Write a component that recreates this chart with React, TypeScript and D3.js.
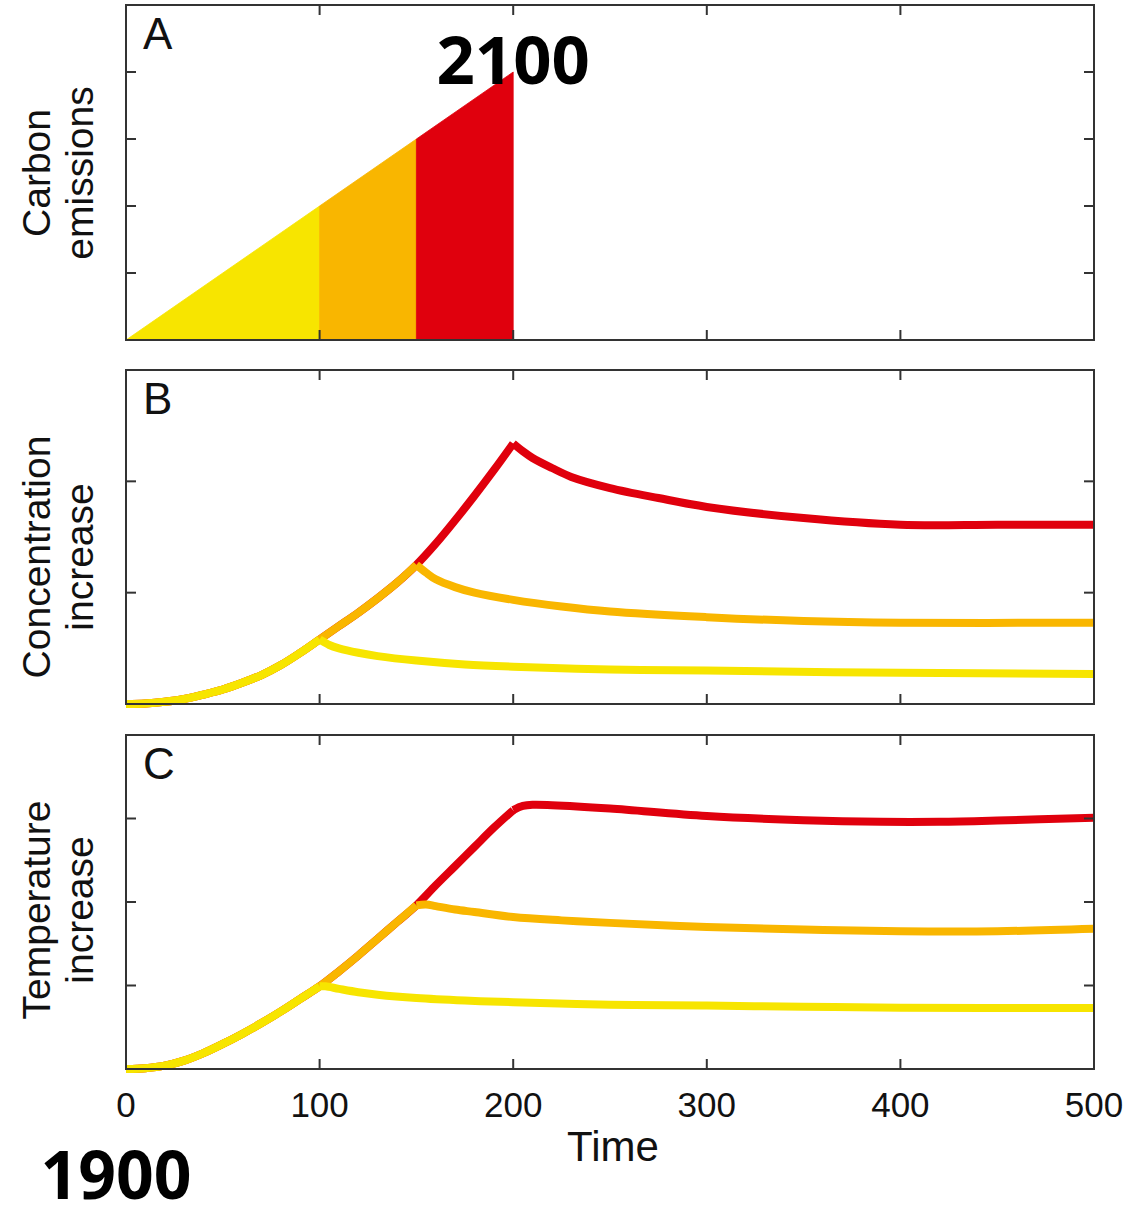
import React from "react";
import * as d3 from "d3";

// ---------- data ----------
const xTicks = [0, 100, 200, 300, 400, 500];
const panelLetters = ["A", "B", "C"];
const yLabelLines = [
  ["Carbon", "emissions"],
  ["Concentration", "increase"],
  ["Temperature", "increase"],
];

// Panel A: emissions (linear ramp split into three scenario segments)
const emissionYellow: [number, number][] = [[0, 0], [100, 2]];
const emissionOrange: [number, number][] = [[100, 2], [150, 3]];
const emissionRed: [number, number][] = [[150, 3], [200, 4]];

// Panel B: concentration
const concRise: [number, number][] = [
  [0, 0], [10, 0.005], [20, 0.02], [30, 0.045], [40, 0.085], [50, 0.13],
  [60, 0.19], [70, 0.26], [80, 0.35], [90, 0.46], [100, 0.58],
  [110, 0.7], [120, 0.82], [130, 0.95], [140, 1.09], [150, 1.25],
  [160, 1.44], [170, 1.65], [180, 1.87], [190, 2.1], [200, 2.34],
];
const concYellowDecay: [number, number][] = [
  [105, 0.53], [110, 0.5], [120, 0.46], [130, 0.43], [150, 0.39], [175, 0.355],
  [200, 0.335], [250, 0.31], [300, 0.3], [400, 0.28], [500, 0.27],
];
const concOrangeDecay: [number, number][] = [
  [155, 1.18], [160, 1.12], [170, 1.05], [180, 1.0], [200, 0.935], [225, 0.875],
  [250, 0.83], [300, 0.78], [350, 0.745], [400, 0.73], [500, 0.73],
];
const concRedDecay: [number, number][] = [
  [205, 2.27], [210, 2.21], [220, 2.12], [230, 2.04], [250, 1.94], [275, 1.85],
  [300, 1.77], [350, 1.67], [400, 1.61], [450, 1.61], [500, 1.61],
];

// Panel C: temperature
const tempRise: [number, number][] = [
  [0, 0], [10, 0.01], [20, 0.04], [30, 0.1], [40, 0.19], [50, 0.3],
  [60, 0.42], [70, 0.55], [80, 0.69], [90, 0.84], [100, 0.99],
  [110, 1.17], [120, 1.36], [130, 1.56], [140, 1.76], [150, 1.96],
  [160, 2.2], [170, 2.43], [180, 2.66], [190, 2.89], [200, 3.1],
];
const tempYellowDecay: [number, number][] = [
  [103, 0.99], [110, 0.96], [120, 0.92], [130, 0.89], [150, 0.85], [175, 0.82],
  [200, 0.8], [250, 0.77], [300, 0.76], [350, 0.745], [400, 0.735], [450, 0.73], [500, 0.73],
];
const tempOrangeDecay: [number, number][] = [
  [155, 1.97], [160, 1.95], [170, 1.91], [180, 1.88], [200, 1.82], [225, 1.78],
  [250, 1.75], [300, 1.7], [350, 1.67], [400, 1.65], [450, 1.65], [500, 1.68],
];
const tempRedDecay: [number, number][] = [
  [205, 3.15], [210, 3.165], [220, 3.16], [250, 3.12], [300, 3.03], [350, 2.98],
  [390, 2.96], [420, 2.96], [450, 2.975], [500, 3.01],
];

const scenarioEnds = [100, 150, 200];
const colors = ["#F7E500", "#F9B600", "#E0000D"];

// ---------- layout ----------
const W = 1131;
const H = 1206;
const X0 = 126;
const X1 = 1094;
const panels = [
  { top: 5, bottom: 340, yMax: 5, yTicks: [1, 2, 3, 4], labelCenter: 173 },
  { top: 370, bottom: 704, yMax: 3, yTicks: [1, 2], labelCenter: 557 },
  { top: 735, bottom: 1069, yMax: 4, yTicks: [1, 2, 3], labelCenter: 910 },
];
const frameColor = "#333";
const sans = "'Liberation Sans', Arial, Helvetica, sans-serif";

function riseUpTo(rise: [number, number][], end: number) {
  return rise.filter((d) => d[0] <= end);
}

export default function App() {
  const x = d3.scaleLinear().domain([0, 500]).range([X0, X1]);
  const ys = panels.map((p) =>
    d3.scaleLinear().domain([0, p.yMax]).range([p.bottom, p.top])
  );

  // each series drawn as a rise part and a decay part sharing the peak point
  const makeParts = (rise: [number, number][], decays: [number, number][][]) =>
    decays.map((decay, i) => {
      const r = riseUpTo(rise, scenarioEnds[i]);
      const peak = r[r.length - 1];
      return [r, [peak, ...decay]];
    });

  const concParts = makeParts(concRise, [concYellowDecay, concOrangeDecay, concRedDecay]);
  const tempParts = makeParts(tempRise, [tempYellowDecay, tempOrangeDecay, tempRedDecay]);

  const area = d3
    .area<[number, number]>()
    .x((d) => x(d[0]))
    .y0(ys[0](0))
    .y1((d) => ys[0](d[1]));

  const curve = d3.curveCatmullRom.alpha(0.5);
  const lineB = d3
    .line<[number, number]>()
    .x((d) => x(d[0]))
    .y((d) => ys[1](d[1]))
    .curve(curve);
  const lineC = d3
    .line<[number, number]>()
    .x((d) => x(d[0]))
    .y((d) => ys[2](d[1]))
    .curve(curve);

  const emissionSegs = [emissionYellow, emissionOrange, emissionRed];
  const tickLen = 10;
  const strokeW = 8;

  const renderLines = (parts: [number, number][][][], gen: any, clip: string) => (
    <g clipPath={clip}>
      {[2, 1, 0].map((i) => (
        <g key={i}>
          {parts[i].map((seg, k) => (
            <path
              key={k}
              d={gen(seg) || ""}
              fill="none"
              stroke={colors[i]}
              strokeWidth={strokeW}
              strokeLinejoin="round"
              strokeLinecap="butt"
            />
          ))}
        </g>
      ))}
    </g>
  );

  return (
    <svg
      width={W}
      height={H}
      style={{ position: "absolute", left: 0, top: 0, background: "#fff" }}
    >
      <defs>
        {panels.map((p, i) => (
          <clipPath id={`clip${i}`} key={i}>
            <rect x={X0} y={p.top - 10} width={X1 - X0} height={p.bottom - p.top + 20} />
          </clipPath>
        ))}
      </defs>
      <rect x={0} y={0} width={W} height={H} fill="#fff" />

      {/* Panel A areas */}
      <g>
        {emissionSegs.map((seg, i) => (
          <path key={i} d={area(seg) || ""} fill={colors[i]} stroke={colors[i]} strokeWidth={0.8} />
        ))}
      </g>

      {/* Panel B and C lines: red first so lower scenarios sit on top of the shared rise */}
      {renderLines(concParts as any, lineB, "url(#clip1)")}
      {renderLines(tempParts as any, lineC, "url(#clip2)")}

      {/* Frames, ticks, labels */}
      {panels.map((p, i) => (
        <g key={i}>
          <rect
            x={X0}
            y={p.top}
            width={X1 - X0}
            height={p.bottom - p.top}
            fill="none"
            stroke={frameColor}
            strokeWidth={2}
          />
          {xTicks.slice(1, -1).map((t) => (
            <g key={t}>
              <line x1={x(t)} x2={x(t)} y1={p.bottom} y2={p.bottom - tickLen} stroke={frameColor} strokeWidth={2} />
              <line x1={x(t)} x2={x(t)} y1={p.top} y2={p.top + tickLen} stroke={frameColor} strokeWidth={2} />
            </g>
          ))}
          {p.yTicks.map((v) => (
            <g key={v}>
              <line x1={X0} x2={X0 + tickLen} y1={ys[i](v)} y2={ys[i](v)} stroke={frameColor} strokeWidth={2} />
              <line x1={X1} x2={X1 - tickLen} y1={ys[i](v)} y2={ys[i](v)} stroke={frameColor} strokeWidth={2} />
            </g>
          ))}
          <text x={143} y={p.top + 44} fontFamily={sans} fontSize={44} fill="#111">
            {panelLetters[i]}
          </text>
          {yLabelLines[i].map((line, j) => (
            <text
              key={j}
              transform={`translate(${j === 0 ? 50 : 93},${p.labelCenter}) rotate(-90)`}
              textAnchor="middle"
              fontFamily={sans}
              fontSize={39}
              fill="#111"
            >
              {line}
            </text>
          ))}
        </g>
      ))}

      {/* x tick labels */}
      {xTicks.map((t) => (
        <text key={t} x={x(t)} y={1117} textAnchor="middle" fontFamily={sans} fontSize={35} fill="#111">
          {t}
        </text>
      ))}
      <text x={613} y={1161} textAnchor="middle" fontFamily={sans} fontSize={42} fill="#111">
        Time
      </text>

      {/* Year annotations */}
      <text
        x={x(200)}
        y={84}
        textAnchor="middle"
        fontFamily="'Open Sans', sans-serif"
        fontWeight={700}
        fontSize={67}
        fill="#000"
      >
        2100
      </text>
      <text
        x={116}
        y={1199}
        textAnchor="middle"
        fontFamily="'Open Sans', sans-serif"
        fontWeight={700}
        fontSize={66}
        fill="#000"
      >
        1900
      </text>
    </svg>
  );
}
